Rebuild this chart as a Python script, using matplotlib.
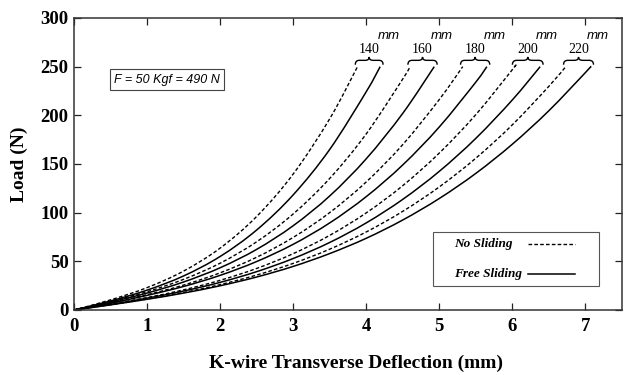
import matplotlib
matplotlib.use("Agg")
import matplotlib.pyplot as plt
from matplotlib.path import Path
from matplotlib.patches import PathPatch, Rectangle
from matplotlib.lines import Line2D

# K-wire lengths (mm)
lengths = [140, 160, 180, 200, 220]

# Common deflection grid (mm) at which loads were sampled
deflection_grid = [0.0, 0.5, 1.0, 1.5, 2.0, 2.5, 3.0, 3.5,
                   4.0, 4.5, 5.0, 5.5, 6.0, 6.5, 7.0]

# Load (N) along the deflection grid, no sliding at the wire ends
ns_140 = [0, 10.4, 23.0, 40.0, 63.6, 96.1, 139.7, 196.5]
ns_160 = [0, 8.7, 18.8, 31.5, 48.1, 70.1, 98.7, 135.2, 181.0, 237.4]
ns_180 = [0, 7.4, 15.7, 25.6, 38.2, 54.2, 74.6, 100.1, 131.6, 170.0, 216.3]
ns_200 = [0, 6.1, 12.8, 20.7, 30.5, 42.7, 57.9, 76.7, 99.8, 127.8, 161.3,
          200.8, 247.0]
ns_220 = [0, 5.4, 11.3, 18.0, 26.1, 35.9, 47.9, 62.5, 80.2, 101.4, 126.5,
          156.0, 190.3, 229.9]

# Load (N) along the deflection grid, free sliding at the wire ends
fs_140 = [0, 9.3, 20.4, 35.0, 55.0, 82.2, 118.3, 165.0, 224.3]
fs_160 = [0, 8.2, 17.4, 28.8, 43.4, 62.3, 86.6, 117.2, 155.4, 202.1]
fs_180 = [0, 7.1, 15.0, 24.2, 35.6, 49.8, 67.5, 89.5, 116.5, 149.1, 188.1,
          234.2]
fs_200 = [0, 5.8, 12.2, 19.5, 28.4, 39.4, 52.9, 69.4, 89.5, 113.7, 142.5,
          176.4, 215.9]
fs_220 = [0, 5.3, 11.0, 17.4, 24.9, 33.9, 44.8, 58.0, 73.7, 92.5, 114.6,
          140.4, 170.4, 204.8, 244.0]

# Deflection (mm) reached at the final load
max_load = 250
no_sliding_end = [3.88, 4.60, 5.32, 6.03, 6.73]
free_sliding_end = [4.19, 4.93, 5.65, 6.38, 7.07]

no_sliding = [ns_140, ns_160, ns_180, ns_200, ns_220]
free_sliding = [fs_140, fs_160, fs_180, fs_200, fs_220]

x_ticks = [0, 1, 2, 3, 4, 5, 6, 7]
y_ticks = [0, 50, 100, 150, 200, 250, 300]

SERIF = "Liberation Serif"
SANS = "Liberation Sans"

fig = plt.figure(figsize=(6.28, 3.75), dpi=100)
ax = fig.add_axes([74 / 628, 65 / 375, 548 / 628, 292 / 375])

dash = (0, (2.6, 1.6))


def smooth_path(xs, ys):
    """Cubic Bezier path passing through every sample (Catmull-Rom tangents)."""
    pts = list(zip(xs, ys))
    n = len(pts)
    verts = [pts[0]]
    codes = [Path.MOVETO]
    for i in range(n - 1):
        p0 = pts[max(i - 1, 0)]
        p1 = pts[i]
        p2 = pts[i + 1]
        p3 = pts[min(i + 2, n - 1)]
        c1 = (p1[0] + (p2[0] - p0[0]) / 6, p1[1] + (p2[1] - p0[1]) / 6)
        c2 = (p2[0] - (p3[0] - p1[0]) / 6, p2[1] - (p3[1] - p1[1]) / 6)
        verts += [c1, c2, p2]
        codes += [Path.CURVE4] * 3
    return Path(verts, codes)


for loads, end in zip(no_sliding, no_sliding_end):
    xs = deflection_grid[:len(loads)] + [end]
    ys = loads + [max_load]
    ax.add_patch(PathPatch(smooth_path(xs, ys), fill=False, lw=1.0,
                           edgecolor="black", linestyle=dash))
for loads, end in zip(free_sliding, free_sliding_end):
    xs = deflection_grid[:len(loads)] + [end]
    ys = loads + [max_load]
    ax.add_patch(PathPatch(smooth_path(xs, ys), fill=False, lw=1.1,
                           edgecolor="black"))

ax.set_xlim(0, 7.5)
ax.set_ylim(0, 300)
ax.set_xticks(x_ticks)
ax.set_yticks(y_ticks)
ax.tick_params(direction="in", top=True, right=True, length=5, width=0.9,
               colors="#222222", labelcolor="black", labelsize=13.5)
ax.tick_params(axis="x", pad=6)
ax.tick_params(axis="y", pad=4)
for lbl in ax.get_xticklabels() + ax.get_yticklabels():
    lbl.set_fontfamily(SERIF)
    lbl.set_fontweight("bold")
for sp in ax.spines.values():
    sp.set_color("#333333")
    sp.set_linewidth(1.1)

ax.set_xlabel("K-wire Transverse Deflection (mm)", fontsize=14,
              fontweight="bold", family=SERIF)
ax.xaxis.set_label_coords(0.514, -0.154)
ax.set_ylabel("Load (N)", fontsize=14, fontweight="bold", family=SERIF)
ax.yaxis.set_label_coords(-0.084, 0.5)


def brace(x1, x2, y0, y1, ytip):
    """Upward curly brace between x1 and x2 (data units)."""
    xm = 0.5 * (x1 + x2)
    q = 0.14 * (x2 - x1)
    verts = [(x1, y0), (x1, y1), (x1 + q, y1),
             (xm - q, y1),
             (xm, y1), (xm, ytip),
             (xm, y1), (xm + q, y1),
             (x2 - q, y1),
             (x2, y1), (x2, y0)]
    codes = [Path.MOVETO, Path.CURVE3, Path.CURVE3,
             Path.LINETO,
             Path.CURVE3, Path.CURVE3,
             Path.CURVE3, Path.CURVE3,
             Path.LINETO,
             Path.CURVE3, Path.CURVE3]
    ax.add_patch(PathPatch(Path(verts, codes), fill=False, lw=1.0,
                           edgecolor="black", clip_on=False))


for length, x_ns, x_fs in zip(lengths, no_sliding_end, free_sliding_end):
    x1, x2 = x_ns - 0.03, x_fs + 0.04
    brace(x1, x2, max_load + 2, max_load + 6.5, max_load + 10)
    xm = 0.5 * (x1 + x2)
    ax.annotate(str(length), xy=(xm, max_load), xytext=(0, 12.5),
                textcoords="offset points", ha="center", va="center",
                fontsize=10, family=SERIF)
    ax.annotate("mm", xy=(xm, max_load), xytext=(14, 22),
                textcoords="offset points", ha="center", va="center",
                fontsize=9.5, family=SANS, style="italic")

ax.text(0.17, 0.789, "F = 50 Kgf = 490 N", transform=ax.transAxes,
        ha="center", va="center", fontsize=9, family=SANS, style="italic",
        bbox=dict(boxstyle="square,pad=0.35", fc="white", ec="#444444",
                  lw=0.8))

# Key: framed box with each label followed by its line sample
ax.add_patch(Rectangle((0.655, 0.082), 0.303, 0.186, transform=ax.transAxes,
                       fill=True, fc="white", ec="#555555", lw=0.8))
key_font = dict(family=SERIF, weight="bold", style="italic", size=9.5)
key_rows = [("No Sliding", dash, 1.0, 0.226), ("Free Sliding", "-", 1.1, 0.123)]
for label, ls, lw, yrow in key_rows:
    ax.text(0.693, yrow, label, transform=ax.transAxes, ha="left",
            va="center", **key_font)
    ax.add_line(Line2D([0.828, 0.914], [yrow, yrow], transform=ax.transAxes,
                       color="black", lw=lw, linestyle=ls))

fig.savefig("out.png", dpi=100)
